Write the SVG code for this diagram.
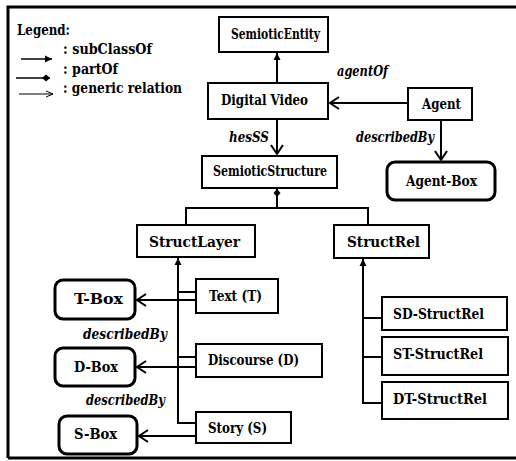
<svg xmlns="http://www.w3.org/2000/svg" width="516" height="461" viewBox="0 0 516 461">
<style>
.box{fill:#fff;stroke:#000;stroke-width:2}
.rbox{fill:#fff;stroke:#000;stroke-width:3}
text{font-family:"DejaVu Serif","Liberation Serif",serif;fill:#000;font-weight:bold;font-size:15px}
.rel{font-style:italic}
.ln{fill:none;stroke:#000;stroke-width:2}
</style>
<defs>
<marker id="inh" markerUnits="userSpaceOnUse" markerWidth="8" markerHeight="8" refX="7" refY="4" orient="auto">
<path d="M0,0.5 L7,4 L0,7.5 Z" fill="#000"/>
</marker>
<marker id="gen" markerUnits="userSpaceOnUse" markerWidth="12" markerHeight="14" refX="10" refY="7" orient="auto">
<path d="M1,1 L10,7 L1,13" fill="none" stroke="#000" stroke-width="2"/>
</marker>
<marker id="genThin" markerUnits="userSpaceOnUse" markerWidth="8" markerHeight="8" refX="7" refY="4" orient="auto">
<path d="M0,1 L7,4 L0,7" fill="none" stroke="#000" stroke-width="1"/>
</marker>
<marker id="part" markerUnits="userSpaceOnUse" markerWidth="10" markerHeight="8" refX="8" refY="4" orient="auto">
<path d="M0,4 L4,0.5 L8,4 L4,7.5 Z" fill="#000"/>
</marker>
</defs>

<!-- outer frame -->
<path d="M8,458 V7 H516" fill="none" stroke="#000" stroke-width="3"/>
<path d="M8,458 H516" fill="none" stroke="#000" stroke-width="3"/>

<!-- legend -->
<g id="legend">
<text x="17" y="35" textLength="53" lengthAdjust="spacingAndGlyphs">Legend:</text>
<line x1="21" y1="59" x2="52" y2="59" stroke="#000" stroke-width="1.5" marker-end="url(#inh)"/>
<text x="63" y="54" textLength="89" lengthAdjust="spacingAndGlyphs">: subClassOf</text>
<line x1="16" y1="78" x2="50" y2="78" stroke="#000" stroke-width="1.5" marker-end="url(#part)"/>
<text x="63" y="74" textLength="55" lengthAdjust="spacingAndGlyphs">: partOf</text>
<line x1="19" y1="94" x2="53" y2="94" stroke="#000" stroke-width="1" marker-end="url(#genThin)"/>
<text x="63" y="93" textLength="119" lengthAdjust="spacingAndGlyphs">: generic relation</text>
</g>

<!-- connectors -->
<g id="connectors">
<line class="ln" x1="277" y1="83" x2="277" y2="53" marker-end="url(#inh)"/>
<line class="ln" x1="408" y1="103" x2="330" y2="103" marker-end="url(#gen)"/>
<line class="ln" x1="441" y1="120" x2="441" y2="160" marker-end="url(#gen)"/>
<line class="ln" x1="277" y1="119" x2="277" y2="154" marker-end="url(#gen)"/>
<line class="ln" x1="277" y1="208" x2="277" y2="189" marker-end="url(#part)"/>
<path class="ln" d="M186,225 V208 H368 V225"/>
<line class="ln" x1="178" y1="423" x2="178" y2="258" marker-end="url(#inh)"/>
<path class="ln" d="M178,292 H196 M178,357 H196 M177,423 H196"/>
<line class="ln" x1="196" y1="300" x2="137" y2="300" marker-end="url(#gen)"/>
<line class="ln" x1="196" y1="367" x2="137" y2="367" marker-end="url(#gen)"/>
<line class="ln" x1="196" y1="436" x2="139" y2="436" marker-end="url(#gen)"/>
<line class="ln" x1="363" y1="403" x2="363" y2="259" marker-end="url(#inh)"/>
<path class="ln" d="M363,318 H382 M363,357 H382 M362,403 H382"/>
<text class="rel" x="337" y="76" textLength="51" lengthAdjust="spacingAndGlyphs">agentOf</text>
<text class="rel" x="229" y="142" textLength="40" lengthAdjust="spacingAndGlyphs">hesSS</text>
<text class="rel" x="356" y="142" textLength="78" lengthAdjust="spacingAndGlyphs">describedBy</text>
<text class="rel" x="83" y="339" textLength="84" lengthAdjust="spacingAndGlyphs">describedBy</text>
<text class="rel" x="86" y="405" textLength="79" lengthAdjust="spacingAndGlyphs">describedBy</text>
</g>

<!-- nodes -->
<g id="semioticEntity"><rect class="box" x="219" y="17" width="109" height="35"/><text x="231" y="39" textLength="89" lengthAdjust="spacingAndGlyphs">SemioticEntity</text></g>
<g id="digitalVideo"><rect class="box" x="208" y="83" width="120" height="36"/><text x="221" y="105" textLength="87" lengthAdjust="spacingAndGlyphs">Digital Video</text></g>
<g id="agent"><rect class="box" x="408" y="88" width="64" height="32"/><text x="422" y="109" textLength="39" lengthAdjust="spacingAndGlyphs">Agent</text></g>
<g id="agentBox"><rect class="rbox" x="387" y="162" width="108" height="38" rx="8"/><text x="406" y="186" textLength="71" lengthAdjust="spacingAndGlyphs">Agent-Box</text></g>
<g id="semioticStructure"><rect class="box" x="202" y="156" width="135" height="32"/><text x="213" y="176" textLength="114" lengthAdjust="spacingAndGlyphs">SemioticStructure</text></g>
<g id="structLayer"><rect class="box" x="137" y="225" width="118" height="32"/><text x="149" y="247" textLength="91" lengthAdjust="spacingAndGlyphs">StructLayer</text></g>
<g id="structRel"><rect class="box" x="334" y="225" width="95" height="33"/><text x="347" y="247" textLength="73" lengthAdjust="spacingAndGlyphs">StructRel</text></g>
<g id="text"><rect class="box" x="196" y="279" width="82" height="34"/><text x="209" y="301" textLength="53" lengthAdjust="spacingAndGlyphs">Text (T)</text></g>
<g id="discourse"><rect class="box" x="196" y="344" width="126" height="33"/><text x="208" y="365" textLength="91" lengthAdjust="spacingAndGlyphs">Discourse (D)</text></g>
<g id="story"><rect class="box" x="196" y="412" width="95" height="31"/><text x="208" y="433" textLength="59" lengthAdjust="spacingAndGlyphs">Story (S)</text></g>
<g id="tBox"><rect class="rbox" x="55" y="280" width="80" height="39" rx="8"/><text x="74" y="304" textLength="49" lengthAdjust="spacingAndGlyphs">T-Box</text></g>
<g id="dBox"><rect class="rbox" x="55" y="348" width="80" height="38" rx="8"/><text x="74" y="372" textLength="44" lengthAdjust="spacingAndGlyphs">D-Box</text></g>
<g id="sBox"><rect class="rbox" x="59" y="416" width="78" height="38" rx="8"/><text x="74" y="439" textLength="43" lengthAdjust="spacingAndGlyphs">S-Box</text></g>
<g id="sdStructRel"><rect class="box" x="382" y="297" width="125" height="33"/><text x="393" y="319" textLength="91" lengthAdjust="spacingAndGlyphs">SD-StructRel</text></g>
<g id="stStructRel"><rect class="box" x="382" y="337" width="126" height="38"/><text x="393" y="359" textLength="90" lengthAdjust="spacingAndGlyphs">ST-StructRel</text></g>
<g id="dtStructRel"><rect class="box" x="382" y="382" width="126" height="37"/><text x="393" y="404" textLength="94" lengthAdjust="spacingAndGlyphs">DT-StructRel</text></g>
</svg>
